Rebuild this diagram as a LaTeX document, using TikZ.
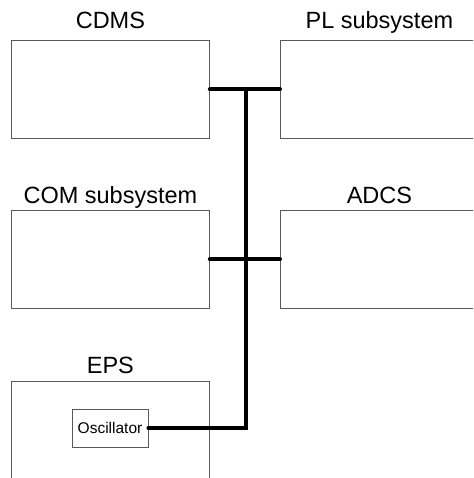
\documentclass[tikz,border=0pt]{standalone}
\usepackage{fontspec}
\setmainfont{Liberation Sans}
\begin{document}
\begin{tikzpicture}[x=1pt,y=-1pt,
  sub/.style={draw=black!65, line width=0.8pt, minimum width=198pt, minimum height=98pt, inner sep=0pt, anchor=north west},
  lbl/.style={font=\fontsize{23.5}{27}\selectfont, anchor=base, inner sep=0pt},
  bus/.style={line width=4pt, line cap=round}]
\useasboundingbox (0,0) rectangle (473,478);
\clip (0,0) rectangle (473,478);
\node[sub] (cdms) at (11,40) {};
\node[sub] (pl) at (280,40) {};
\node[sub] (com) at (11,210) {};
\node[sub] (adcs) at (280,210) {};
\node[sub, minimum height=140pt] (eps) at (11,381) {};
\node[draw=black!65, line width=0.8pt, minimum width=76pt, minimum height=38pt, font=\fontsize{15.5}{18}\selectfont, inner sep=0pt] (osc) at (110,428) {Oscillator};
\node[lbl] (cdmsl) at ([yshift=11.5pt]cdms.north) {CDMS};
\node[lbl] (pll) at ([yshift=11.5pt]pl.north) {PL subsystem};
\node[lbl] (coml) at ([yshift=7pt]com.north) {COM subsystem};
\node[lbl] (adcsl) at ([yshift=7pt]adcs.north) {ADCS};
\node[lbl] (epsl) at ([yshift=8pt]eps.north) {EPS};
\coordinate (bustop) at (246,89);
\draw[bus] (cdms.east) -- (pl.west);
\draw[bus] (com.east) -- (adcs.west);
\draw[bus] (osc.east) -| (bustop);
\end{tikzpicture}
\end{document}
